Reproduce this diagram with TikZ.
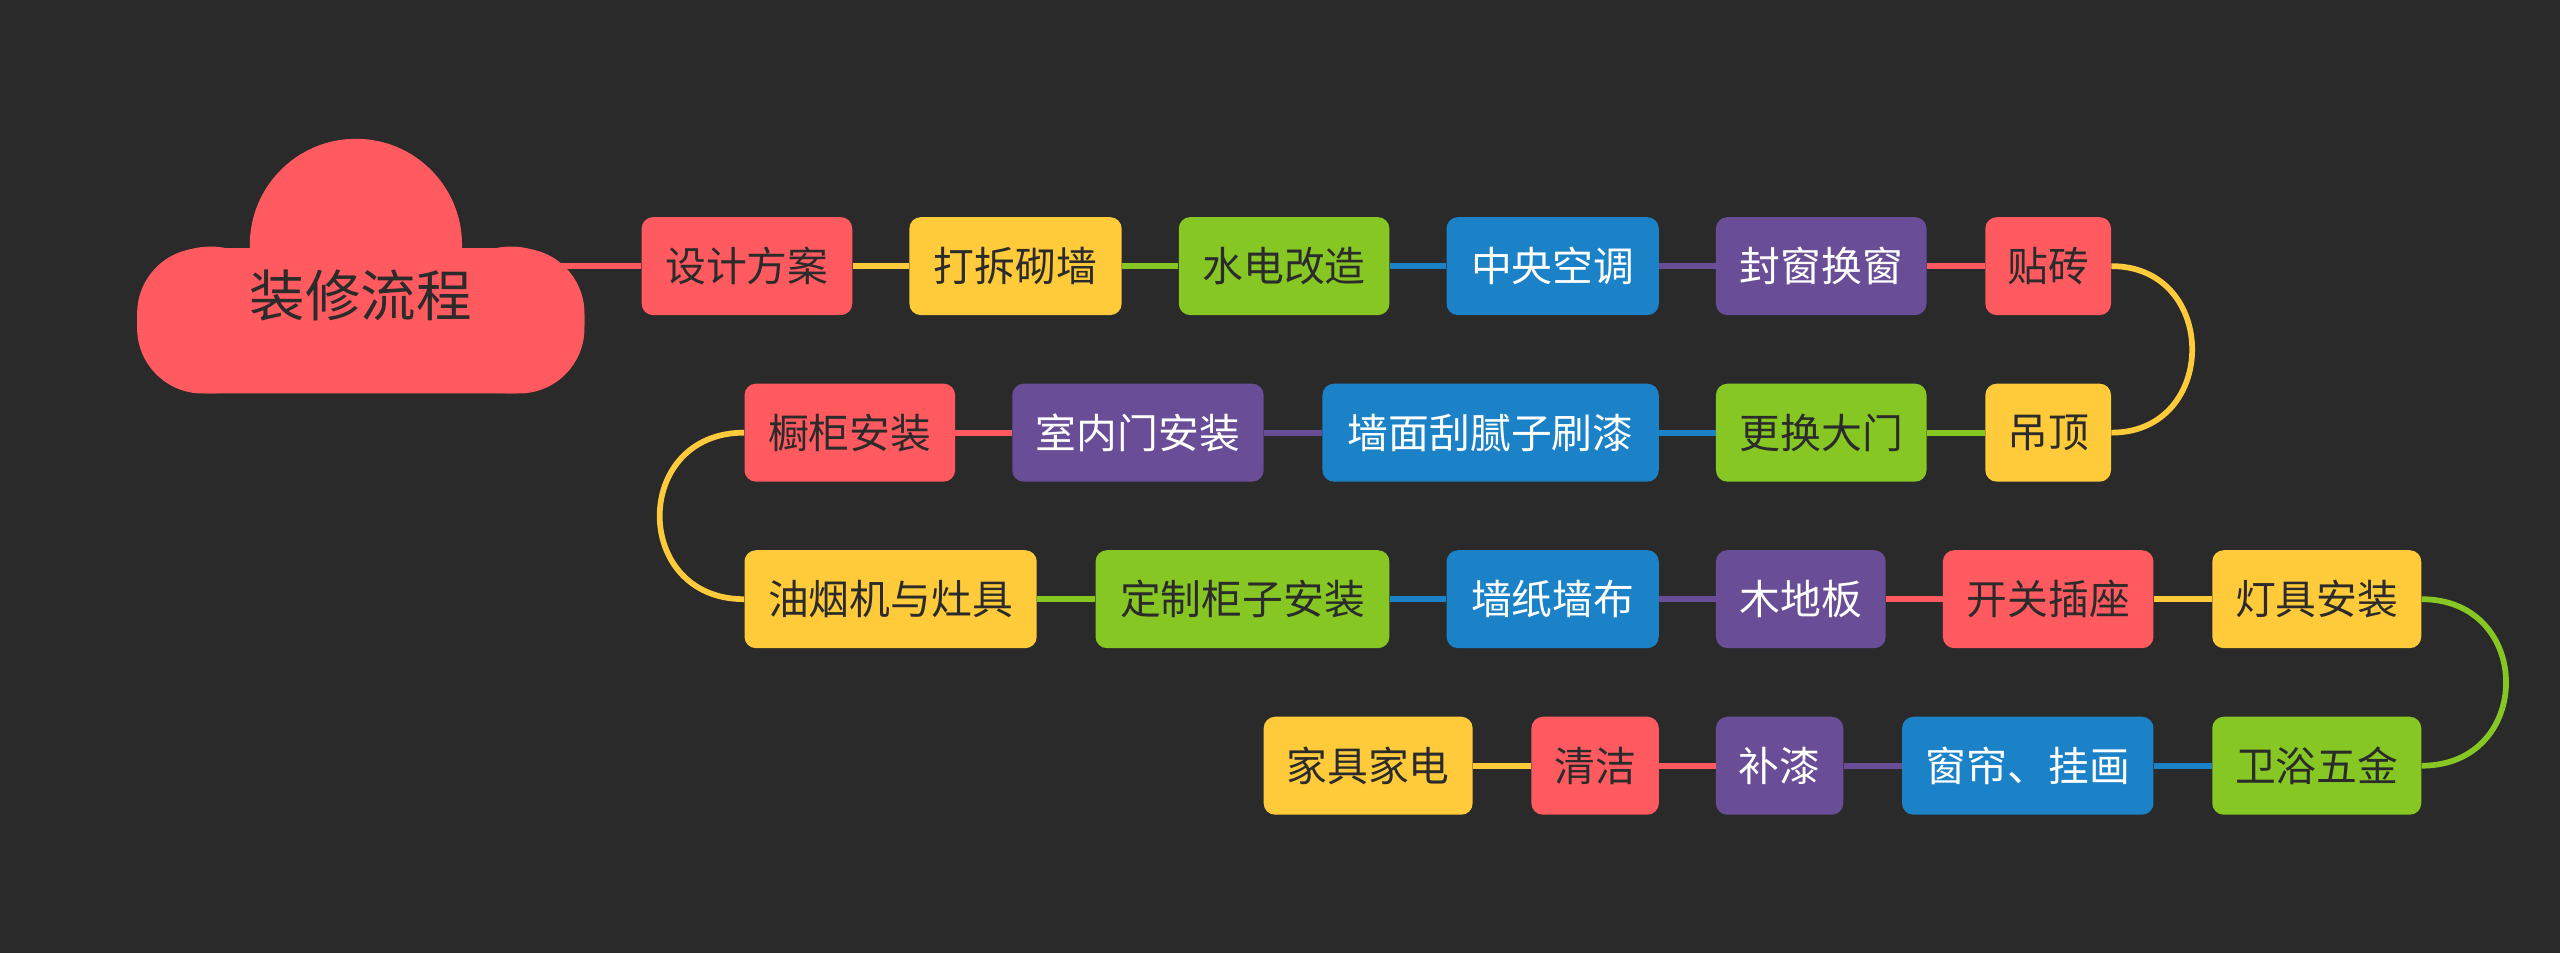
\documentclass[tikz,border=0pt]{standalone}
\usepackage{fontspec}
\newfontfamily\cjk{Noto Sans CJK SC}
\definecolor{bg}{HTML}{2A2A2A}
\definecolor{cr}{HTML}{FF5A5F}
\definecolor{cy}{HTML}{FFCB3A}
\definecolor{cg}{HTML}{86C724}
\definecolor{cb}{HTML}{1B82C8}
\definecolor{cp}{HTML}{694D96}
\definecolor{dk}{HTML}{2B2B2B}
\tikzset{
 bx/.style={rounded corners=7pt,minimum height=60pt,inner sep=0pt,font=\cjk\fontsize{25}{25}\selectfont,text=dk},
 R/.style={bx,fill=cr}, Y/.style={bx,fill=cy}, G/.style={bx,fill=cg},
 B/.style={bx,fill=cb,text=white}, P/.style={bx,fill=cp,text=white},
 ln/.style={line width=3.5pt}
}
\newcommand{\bnode}[6]{\node[#1,minimum width=#4pt-#3pt] (#2) at ({(#3+#4)/2},#5) {#6};}
\begin{document}
\begin{tikzpicture}[x=1pt,y=-1pt]
\fill[bg] (0,0) rectangle (1568,584);
\useasboundingbox (0,0) rectangle (1568,584);
% cloud
\begin{scope}[fill=cr]
\fill[rounded corners=40pt] (84,152) rectangle (358,241);
\fill (218,150) circle (65);
\fill (313,196) circle (45);
\fill (129,196) circle (45);
\end{scope}
\node[font=\cjk\fontsize{34}{34}\selectfont,text=dk] (root) at (221,181) {装修流程};
\coordinate (rootr) at (340,163);
% row1
\bnode{R}{a1}{393}{522}{163}{设计方案}
\bnode{Y}{a2}{557}{687}{163}{打拆砌墙}
\bnode{G}{a3}{722}{851}{163}{水电改造}
\bnode{B}{a4}{886}{1016}{163}{中央空调}
\bnode{P}{a5}{1051}{1180}{163}{封窗换窗}
\bnode{R}{a6}{1216}{1293}{163}{贴砖}
% row2
\bnode{R}{b5}{456}{585}{265}{橱柜安装}
\bnode{P}{b4}{620}{774}{265}{室内门安装}
\bnode{B}{b3}{810}{1016}{265}{墙面刮腻子刷漆}
\bnode{G}{b2}{1051}{1180}{265}{更换大门}
\bnode{Y}{b1}{1216}{1293}{265}{吊顶}
% row3
\bnode{Y}{c1}{456}{635}{367}{油烟机与灶具}
\bnode{G}{c2}{671}{851}{367}{定制柜子安装}
\bnode{B}{c3}{886}{1016}{367}{墙纸墙布}
\bnode{P}{c4}{1051}{1155}{367}{木地板}
\bnode{R}{c5}{1190}{1319}{367}{开关插座}
\bnode{Y}{c6}{1355}{1483}{367}{灯具安装}
% row4
\bnode{G}{d1}{1355}{1483}{469}{卫浴五金}
\bnode{B}{d2}{1165}{1319}{469}{窗帘、挂画}
\bnode{P}{d3}{1051}{1129}{469}{补漆}
\bnode{R}{d4}{938}{1016}{469}{清洁}
\bnode{Y}{d5}{774}{902}{469}{家具家电}
\begin{scope}[on background layer/.style={}]
\end{scope}
% connectors
\draw[ln,cr] (rootr) -- (a1.west);
\draw[ln,cy] (a1) -- (a2);
\draw[ln,cg] (a2) -- (a3);
\draw[ln,cb] (a3) -- (a4);
\draw[ln,cp] (a4) -- (a5);
\draw[ln,cr] (a5) -- (a6);
\draw[ln,cy] (a6.east) .. controls +(66,0) and +(66,0) .. (b1.east);
\draw[ln,cg] (b1) -- (b2);
\draw[ln,cb] (b2) -- (b3);
\draw[ln,cp] (b3) -- (b4);
\draw[ln,cr] (b4) -- (b5);
\draw[ln,cy] (b5.west) .. controls +(-69,0) and +(-69,0) .. (c1.west);
\draw[ln,cg] (c1) -- (c2);
\draw[ln,cb] (c2) -- (c3);
\draw[ln,cp] (c3) -- (c4);
\draw[ln,cr] (c4) -- (c5);
\draw[ln,cy] (c5) -- (c6);
\draw[ln,cg] (c6.east) .. controls +(69,0) and +(69,0) .. (d1.east);
\draw[ln,cb] (d1) -- (d2);
\draw[ln,cp] (d2) -- (d3);
\draw[ln,cr] (d3) -- (d4);
\draw[ln,cy] (d4) -- (d5);
\end{tikzpicture}
\end{document}
